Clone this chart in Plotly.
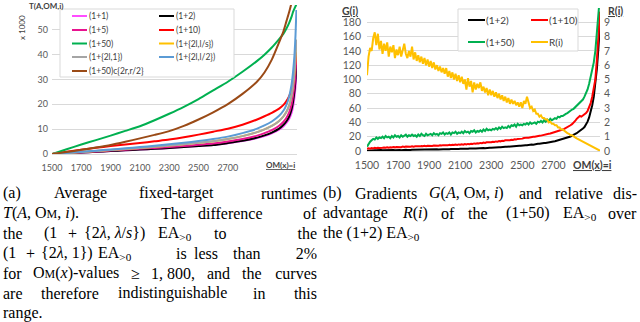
import plotly.graph_objects as go

W, H = 640, 322
def px(x): return x / W
def py(y): return 1 - y / H

# ---------------- Left chart data (T values in thousands) ----------------
om_left = [1500,1600,1700,1800,1900,2000,2100,2200,2300,2400,2500,2600,2700,2800,2900,
           2950,3000,3050,3080,3100,3120,3135,3145,3155,3162,3168]
t_1p1  = [0,0.3,0.6,0.9,1.2,1.5,1.8,2.1,2.4,2.8,3.2,3.6,4.3,5.2,6.4,7.2,8.3,9.8,11.2,12.5,14.3,16.5,19,23,27,32]
t_1p2  = [0,0.3,0.6,0.9,1.2,1.5,1.8,2.1,2.4,2.8,3.2,3.6,4.4,5.3,6.6,7.5,8.6,10.2,11.8,13.2,15.3,18,21,25.5,30,36]
t_1p5  = [0,0.35,0.7,1.05,1.4,1.75,2.1,2.45,2.8,3.2,3.7,4.2,5.0,6.0,7.4,8.4,9.6,11.4,13,14.6,17,20,23.5,28,33,39]
t_1p10 = [0,0.9,1.7,2.5,3.2,3.8,4.4,5.1,5.8,6.7,7.8,9.0,10.2,11.8,13.9,15.2,16.6,18.3,19.8,21.3,23.5,26,28.5,32.5,37,41]
t_1p50 = [0,1.9,3.8,5.6,7.4,9.3,11.2,13.6,16.2,19,22.1,25.6,29.1,33.1,37.5,40,42.9,46.3,48.5,50.5,53,55.3,57.2,58.6,59.5,60.3]
t_lams = [0,0.45,0.85,1.25,1.6,2.0,2.4,2.9,3.4,3.9,4.5,5.1,6.0,7.2,8.8,9.9,11.3,13.3,15.2,17,19.8,23.5,27.5,33,39,46]
t_lam1 = [0,0.4,0.8,1.2,1.6,2.0,2.4,2.9,3.4,3.9,4.5,5.1,6.0,7.2,8.8,9.9,11.3,13.3,15.2,17,19.8,23.5,27.5,33,39,46]
t_lam2 = [0,0.45,0.9,1.35,1.8,2.3,2.8,3.3,3.9,4.5,5.2,6.0,7.0,8.4,10.2,11.5,13.1,15.4,17.5,19.8,23.5,28,33,40,48,58]
t_brown = [0,0.8,1.7,2.6,3.6,4.9,6.3,7.7,9.2,11.3,13.9,16.8,20.1,24.2,29.2,32.8,38,45,49.5,53.5,57.5,61,64,67,69,71]

left_names = ["(1+1)", "(1+2)", "(1+5)", "(1+10)", "(1+50)", "(1+{2l,l/s})",
              "(1+{2l,1})", "(1+{2l,l/2})", "(1+50)c{2r,r/2}"]
left_series = [t_1p1, t_1p2, t_1p5, t_1p10, t_1p50, t_lams, t_lam1, t_lam2, t_brown]
left_colors = ["#FF4DFF", "#000000", "#E8138F", "#FF0000", "#00B050", "#FFC000",
               "#A5A5A5", "#5B9BD5", "#9A4A16"]
left_xticks = [1500, 1700, 1900, 2100, 2300, 2500, 2700]
left_yticks = [0, 10, 20, 30, 40, 50, 60]
left_ytext = ["0", "10", "20", "30", "40", "50", ""]

# ---------------- Right chart data ----------------
om_right = list(range(1500, 3001, 10))
g_1p2 = [0.5,0.8,0.6,1.0,0.7,1.1,0.9,1.2,0.8,1.3,1.0,
         1.2,1.0,1.4,1.1,1.3,1.2,1.5,1.1,1.4,1.3,
         1.5,1.2,1.6,1.4,1.7,1.3,1.8,1.5,1.7,1.8,
         1.6,2.0,1.7,1.9,2.1,1.8,2.2,1.9,2.1,2.2,
         2.0,2.4,2.1,2.3,2.5,2.2,2.6,2.3,2.5,2.6,
         2.4,2.8,2.5,2.9,2.7,3.0,2.8,3.1,2.9,3.2,
         3.0,3.3,3.1,3.4,3.2,3.6,3.3,3.7,3.5,3.6,
         3.9,3.6,4.1,3.8,4.3,4.0,4.5,4.2,4.7,4.5,
         4.8,4.6,5.1,4.9,5.3,5.1,5.6,5.4,5.9,5.8,
         6.1,6.0,6.4,6.9,6.5,7.2,6.9,7.5,7.3,7.8,
         7.7,8.2,8.0,8.6,8.4,9.0,8.9,9.5,9.4,10.0,
         10.0,10.6,10.5,11.1,11.2,11.8,11.9,12.5,12.8,13.3,
         13.6,14.2,14.6,15.2,15.8,16.4,17.1,17.9,18.6,19.6,
         20.3,21.5,22.4,23.8,24.9,26.5,27.8,29.6,31.5,33.4,
         37,41,47,55,64,76,92,115,145,178]
g_1p10 = [3.0,3.8,3.3,4.2,3.6,4.4,3.9,4.6,4.1,4.8,4.4,
          4.9,4.5,5.2,4.7,5.3,4.9,5.6,5.1,5.7,5.3,
          5.9,5.4,6.1,5.6,6.2,5.8,6.4,6.0,6.6,6.1,
          6.7,6.3,6.9,6.5,7.1,6.6,7.3,6.8,7.4,7.0,
          7.6,7.1,7.7,7.3,7.9,7.4,8.1,7.6,8.2,7.8,
          8.4,7.9,8.6,8.1,8.8,8.3,9.0,8.5,9.2,8.7,
          9.4,8.9,9.7,9.2,9.9,9.5,10.2,9.8,10.6,10.1,
          10.9,10.5,11.3,10.9,11.7,11.3,12.1,11.8,12.5,12.2,
          13.0,12.6,13.4,13.1,13.9,13.5,14.4,14.0,14.9,14.6,
          15.3,15.0,15.8,15.5,16.4,16.0,16.9,16.7,17.5,17.3,
          18.1,17.9,18.7,18.6,19.3,19.3,20.0,20.0,20.7,20.8,
          21.4,21.5,22.2,22.4,23.0,23.3,24.0,24.4,25.0,25.6,
          26.2,26.9,27.5,28.4,29.0,30.0,31.0,32.0,33.5,34.5,
          36.0,37.5,39.5,42.0,45.0,47.5,49.0,48.0,49.5,51.0,
          53,56,61,67,76,86,100,128,162,195]
g_1p50 = [6,10,13,15,17,16,19,17,19,18,20,
          18,21,19,20,18,21,19,22,20,21,
          19,22,20,21,23,20,22,21,23,21,
          22,20,23,21,24,22,21,24,22,23,
          24,22,25,23,24,22,25,24,26,23,
          25,24,26,23,26,25,27,24,26,25,
          27,25,28,26,27,25,28,27,29,26,
          28,27,29,27,30,28,31,29,30,29,
          31,30,32,30,33,31,34,32,33,32,
          35,33,36,35,37,34,38,36,37,36,
          38,37,39,37,40,38,39,40,38,41,
          40,42,40,43,41,44,42,45,43,45,
          46,45,48,47,49,49,51,52,53,55,
          56,58,59,61,63,65,67,69,72,76,
          80,86,94,103,112,124,140,160,188,218]
r_rel = [5.3,6.6,7.2,7.0,7.9,8.3,7.4,8.2,7.1,7.7,6.8,
         7.5,7.0,7.6,6.6,7.3,6.9,7.4,6.5,7.1,6.7,
         7.3,6.6,7.0,7.5,6.8,6.5,7.0,6.6,7.3,6.4,
         6.9,6.3,6.7,6.2,6.6,6.1,6.5,6.0,6.4,5.9,
         6.3,5.8,6.2,5.7,6.0,5.6,5.9,5.5,5.8,5.4,
         5.8,5.2,5.6,5.1,5.5,5.0,5.4,4.9,5.3,4.8,
         5.2,4.7,5.0,4.3,5.1,4.5,4.9,4.1,4.8,4.3,
         4.7,4.4,4.8,4.2,4.5,4.1,4.4,3.9,4.3,3.9,
         4.2,3.8,4.1,3.7,4.0,3.6,3.9,3.5,3.8,3.4,
         3.7,3.3,3.6,3.3,3.5,3.2,3.4,3.1,3.4,3.0,
         3.5,3.3,3.8,3.4,3.0,3.1,2.8,2.9,2.6,2.6,
         2.4,2.5,2.3,2.3,2.2,2.2,2.0,2.05,1.9,1.9,
         1.8,1.8,1.65,1.65,1.5,1.5,1.4,1.35,1.25,1.2,
         1.1,1.1,1.0,0.95,0.88,0.82,0.75,0.7,0.62,0.57,
         0.5,0.46,0.4,0.34,0.3,0.24,0.18,0.12,0.07,0.02]
right_xticks = [1500, 1700, 1900, 2100, 2300, 2500, 2700]
g_ticks = [0,20,40,60,80,100,120,140,160,180,200]
g_text = ["0","20","40","60","80","100","120","140","160","180",""]
r_ticks = [0,1,2,3,4,5,6,7,8,9]

fig = go.Figure()
for name, ys, col in zip(left_names, left_series, left_colors):
    fig.add_trace(go.Scatter(x=om_left, y=ys, mode="lines", name=name, showlegend=False,
                             line=dict(color=col, width=2, shape="spline", smoothing=0.6),
                             xaxis="x", yaxis="y"))

for name, ys, col in [("(1+2)", g_1p2, "#000000"), ("(1+10)", g_1p10, "#FF0000"),
                      ("(1+50)", g_1p50, "#00B050")]:
    fig.add_trace(go.Scatter(x=om_right, y=ys, mode="lines", name=name, showlegend=False,
                             line=dict(color=col, width=2), xaxis="x2", yaxis="y2"))
fig.add_trace(go.Scatter(x=om_right, y=r_rel, mode="lines", name="R(i)", showlegend=False,
                         line=dict(color="#FFC000", width=2), xaxis="x2", yaxis="y3"))

grid = "#D9D9D9"
tickc = "#595959"
fig.update_layout(
    template="none",
    width=W, height=H, margin=dict(l=0, r=0, t=0, b=0, autoexpand=False),
    paper_bgcolor="white", plot_bgcolor="white", showlegend=False,
    xaxis=dict(domain=[px(52), px(297)], range=[1500, 3172], tickvals=left_xticks,
               showgrid=False, zeroline=False, showline=True, linecolor=grid, ticks="",
               automargin=False, ticklabelstandoff=5,
               tickfont=dict(family="Lato", size=9, color=tickc), anchor="y"),
    yaxis=dict(domain=[py(154), py(5)], range=[0, 60], tickvals=left_yticks, ticktext=left_ytext,
               showgrid=True, gridcolor=grid, zeroline=False, ticks="", automargin=False,
               ticklabelstandoff=3,
               tickfont=dict(family="Lato", size=9, color=tickc), anchor="x"),
    xaxis2=dict(domain=[px(367), px(600)], range=[1500, 3000], tickvals=right_xticks,
                showgrid=False, zeroline=False, showline=True, linecolor=grid, ticks="",
                automargin=False, ticklabelstandoff=4,
                tickfont=dict(family="Lato", size=10.5, color=tickc), anchor="y2"),
    yaxis2=dict(domain=[py(151), py(8)], range=[0, 200], tickvals=g_ticks, ticktext=g_text,
                showgrid=True, gridcolor=grid, zeroline=False, ticks="", automargin=False,
                ticklabelstandoff=5,
                tickfont=dict(family="Lato", size=10.5, color=tickc), anchor="x2"),
    yaxis3=dict(overlaying="y2", side="right", range=[0, 10], tickvals=r_ticks,
                showgrid=False, zeroline=False, ticks="", anchor="x2", automargin=False,
                ticklabelstandoff=3,
                tickfont=dict(family="Lato", size=10.5, color=tickc)),
)

shapes = []
annos = []
def txt(x, y, t, size=16, anchor="left", family="Liberation Serif", color="black", angle=0):
    d = dict(x=px(x), y=py(y), xref="paper", yref="paper", text=t, showarrow=False,
             xanchor=anchor, yanchor="middle", textangle=angle, borderpad=0,
             font=dict(family=family, size=size, color=color))
    if anchor == "right":
        d.update(width=120, align="right")
    annos.append(d)

# ---- left legend ----
shapes.append(dict(type="rect", xref="paper", yref="paper", x0=px(60), x1=px(234), y0=py(77), y1=py(9),
                   line=dict(color=grid, width=1), fillcolor="white", layer="above"))
rows = [16, 30, 43.5, 57, 71]
for k, (name, col) in enumerate(zip(left_names, left_colors)):
    r, c = divmod(k, 2)
    x0 = 72 if c == 0 else 159
    y = rows[r]
    shapes.append(dict(type="line", xref="paper", yref="paper", x0=px(x0), x1=px(x0 + 15),
                       y0=py(y), y1=py(y), line=dict(color=col, width=2), layer="above"))
    txt(x0 + 16, y, name, size=8.5, family="Lato", color="#404040")

# ---- right legend ----
shapes.append(dict(type="rect", xref="paper", yref="paper", x0=px(458), x1=px(578), y0=py(51), y1=py(9),
                   line=dict(color=grid, width=1), fillcolor="white", layer="above"))
rl = [("(1+2)", "#000000", 468, 20), ("(1+10)", "#FF0000", 531, 20),
      ("(1+50)", "#00B050", 468, 42), ("R(i)", "#FFC000", 531, 42)]
for name, col, x0, y in rl:
    shapes.append(dict(type="line", xref="paper", yref="paper", x0=px(x0), x1=px(x0 + 17),
                       y0=py(y), y1=py(y), line=dict(color=col, width=2), layer="above"))
    txt(x0 + 17, y, name, size=10, family="Lato", color="#404040")

# ---- axis titles ----
txt(46, 6, "<b>T(A,OM,i)</b>", size=8, anchor="center", family="Lato", color="#404040")
txt(22, 28, "x 1000", size=8, anchor="center", family="Lato", color="#404040", angle=-90)
txt(280, 165, "<b><u>OM(x)=i</u></b>", size=8, anchor="center", family="Lato", color="#404040")
txt(350, 11, "<b><u>G(i)</u></b>", size=10.5, anchor="center", family="Lato", color="#404040")
txt(615, 11, "<b><u>R(i)</u></b>", size=10.5, anchor="center", family="Lato", color="#404040")
txt(592, 165, "<b><u>OM(x)=i</u></b>", size=10.5, anchor="center", family="Lato", color="#404040")

# ---- captions ----
OM = "O<span style='font-size:12px'>M</span>"
EA = "EA<sub>&gt;0</sub>"
cap_a = [
    (193, [("(a)", 2, "left"), ("Average", 53, "left"), ("fixed-target", 138, "left"), ("runtimes", 318, "right")]),
    (213, [("<i>T</i>(<i>A</i>, " + OM + ", <i>i</i>).", 2, "left"), ("The", 160, "left"),
           ("difference", 197, "left"), ("of", 318, "right")]),
    (233, [("the", 2, "left"), ("(1", 43, "left"), ("+", 67, "left"),
           ("{2<i>λ</i>, <i>λ</i>/<i>s</i>})", 83, "left"), (EA, 157, "left"), ("to", 213, "left"),
           ("the", 318, "right")]),
    (253, [("(1", 2, "left"), ("+", 25, "left"), ("{2<i>λ</i>, 1})", 40, "left"), (EA, 97, "left"),
           ("is", 175, "left"), ("less", 193, "left"), ("than", 232, "left"), ("2%", 318, "right")]),
    (273, [("for", 2, "left"), (OM + "(<i>x</i>)-values", 32, "left"), ("≥", 130, "left"),
           ("1<i>,</i> 800,", 150, "left"), ("and", 206, "left"), ("the", 241, "left"),
           ("curves", 318, "right")]),
    (293, [("are", 2, "left"), ("therefore", 40, "left"), ("indistinguishable", 117, "left"),
           ("in", 252, "left"), ("this", 318, "right")]),
    (313, [("range.", 2, "left")]),
]
cap_b = [
    (193, [("(b)", 322, "left"), ("Gradients", 354, "left"),
           ("<i>G</i>(<i>A</i>, " + OM + ", <i>i</i>)", 428, "left"), ("and", 518, "left"),
           ("relative", 554, "left"), ("dis-", 638, "right")]),
    (213, [("advantage", 322, "left"), ("<i>R</i>(<i>i</i>)", 401, "left"), ("of", 440, "left"),
           ("the", 467, "left"), ("(1+50)", 505, "left"), (EA, 562, "left"), ("over", 638, "right")]),
    (233, [("the (1+2) " + EA, 322, "left")]),
]
for y, words in cap_a + cap_b:
    for t, x, a in words:
        txt(x, y, t, anchor=a)

fig.update_layout(shapes=shapes, annotations=annos)
fig.write_html("out.html", config={"displayModeBar": False, "staticPlot": True},
               post_script="document.body.style.margin='0';document.body.style.overflow='hidden';")
